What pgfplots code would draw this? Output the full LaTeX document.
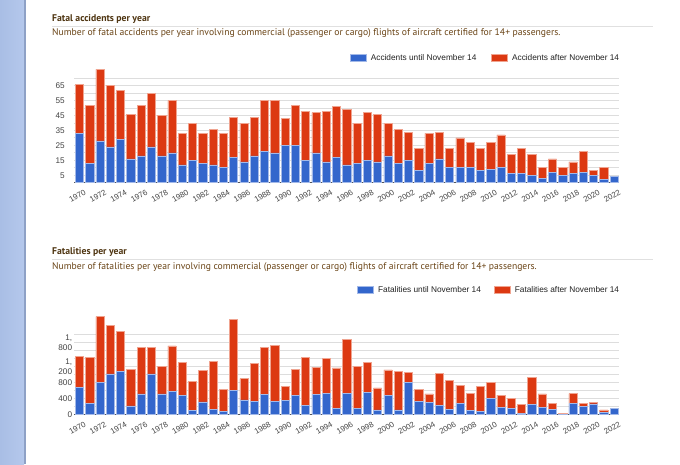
\documentclass[border=0pt]{standalone}
\usepackage{fontspec}
\usepackage{pgfplots}
\pgfplotsset{compat=1.18}
\usepackage{pgfplotstable}
\setmainfont{Liberation Sans}
\newfontfamily\chartfont{Liberation Sans}
\newfontfamily\headfont{PT Sans}

\definecolor{gblue}{HTML}{3366CC}
\definecolor{gred}{HTML}{DC3912}
\definecolor{gblueedge}{HTML}{A3B9E8}
\definecolor{grededge}{HTML}{F0A490}
\definecolor{gridgrey}{HTML}{DDDDDD}
\definecolor{basegrey}{HTML}{555555}
\definecolor{ticktext}{HTML}{444444}
\definecolor{legtext}{HTML}{222222}
\definecolor{headbrown}{HTML}{4E3410}
\definecolor{subbrown}{HTML}{6A4416}
\definecolor{rulegrey}{HTML}{E0E0E0}
\definecolor{sideblue}{HTML}{B5C8EC}
\definecolor{sidedark}{HTML}{A9BEE5}
\definecolor{sideedge}{HTML}{8EA1C6}

% Fatal accidents: before / after November 14 of each year
\pgfplotstableread{
year until after
1970 33 33
1971 13 39
1972 28 48
1973 24 41
1974 29 33
1975 16 30
1976 18 34
1977 24 36
1978 18 27
1979 20 35
1980 12 21
1981 15 25
1982 13 20
1983 12 24
1984 10 23
1985 17 27
1986 14 26
1987 18 26
1988 21 34
1989 20 35
1990 25 18
1991 25 27
1992 15 33
1993 20 27
1994 14 34
1995 17 34
1996 12 37
1997 13 27
1998 15 32
1999 14 32
2000 18 22
2001 13 23
2002 15 19
2003 8 15
2004 13 20
2005 16 18
2006 10 13
2007 10 20
2008 10 17
2009 8 15
2010 9 18
2011 10 22
2012 6 13
2013 6 17
2014 5 14
2015 3 7
2016 7 9
2017 5 5
2018 6 8
2019 7 14
2020 5 3
2021 2 8
2022 4 0
}\accidents

% Fatalities: before / after November 14 of each year
\pgfplotstableread{
year until after
1970 680 770
1971 280 1150
1972 800 1650
1973 1020 1220
1974 1080 1000
1975 220 910
1976 520 1160
1977 1020 670
1978 520 690
1979 580 1140
1980 490 820
1981 100 730
1982 320 790
1983 130 1200
1984 90 540
1985 600 1780
1986 370 530
1987 330 960
1988 510 1170
1989 330 1410
1990 360 350
1991 490 640
1992 230 1200
1993 510 680
1994 530 880
1995 160 1010
1996 530 1360
1997 160 1050
1998 560 750
1999 120 550
2000 480 640
2001 120 970
2002 800 250
2003 330 310
2004 300 220
2005 230 800
2006 140 720
2007 290 450
2008 100 430
2009 80 620
2010 400 410
2011 180 310
2012 160 240
2013 40 210
2014 250 690
2015 180 340
2016 140 140
2017 5 20
2018 280 250
2019 200 80
2020 270 30
2021 50 70
2022 150 0
}\fatalities

\pgfplotsset{
  gchart/.style={
    scale only axis, width=545pt,
    xmin=1969.5, xmax=2022.5, ymin=0,
    ybar stacked, bar width=8.2pt,
    clip=false,
    axis line style={draw=none},
    major tick length=0pt,
    ymajorgrids, grid style={gridgrey, line width=1pt},
    xtick={1970,1972,...,2022},
    /pgf/number format/assume math mode=true,
    xticklabel style={font=\chartfont\fontsize{7.9}{9}\selectfont, text=ticktext,
      rotate=30, anchor=north east, inner sep=0pt, text height=5.7pt, text depth=0pt,
      yshift=-7.5pt, xshift=0.5pt,
      /pgf/number format/1000 sep={}},
    yticklabel style={font=\chartfont\fontsize{8.2}{10.4}\selectfont, text=ticktext,
      inner sep=0pt, align=right, anchor=east},
    legend columns=2,
    legend style={draw=none, fill=none, at={(1,1)}, anchor=east, inner sep=0pt,
      font=\chartfont\fontsize{8.3}{9}\selectfont, text=legtext,
      nodes={inner sep=0pt},
      /tikz/every odd column/.append style={column sep=4pt}},
  },
  until/.style={fill=gblue, draw=gblueedge, line width=0.6pt},
  after/.style={fill=gred, draw=grededge, line width=0.6pt},
}

\begin{document}
\begin{tikzpicture}
\useasboundingbox (0,0) rectangle (680pt,464pt);
\fill[white] (0,0) rectangle (680pt,464pt);
% page side bar
\shade[left color=sidedark, right color=sideblue] (0,0) rectangle (24pt,464pt);
\draw[sideedge, line width=1.6pt] (24.8pt,0) -- (24.8pt,464pt);

% ---------- fatal accidents ----------
\node[anchor=west, inner sep=0pt, text=headbrown,
  font=\headfont\bfseries\fontsize{9.7}{10}\selectfont] at (52pt,444.5pt) {Fatal accidents per year};
\draw[rulegrey, line width=0.9pt] (52pt,437.3pt) -- (653pt,437.3pt);
\node[anchor=west, inner sep=0pt, text=subbrown,
  font=\headfont\fontsize{9.64}{10}\selectfont] at (52pt,430.6pt)
  {Number of fatal accidents per year involving commercial (passenger or cargo) flights of aircraft certified for 14+ passengers.};

\begin{axis}[gchart,
  at={(74.3pt,281.3pt)}, anchor=south west,
  height=116.3pt, ymax=78,
  ytick={0,5,...,70},
  yticklabels={,5,,15,,25,,35,,45,,55,,65,},
  yticklabel style={xshift=-9.3pt},
  legend image code/.code={\fill[#1] (0pt,-3.3pt) rectangle (16pt,3.3pt);},
  legend style={yshift=8.4pt, /tikz/every even column/.append style={column sep=15pt}},
]
\addplot[until] table[x=year, y=until] {\accidents};
\addplot[after] table[x=year, y=after] {\accidents};
\legend{Accidents until November 14, Accidents after November 14}
\draw[basegrey, line width=0.8pt] (axis cs:1969.5,0) -- (axis cs:2022.5,0);
\end{axis}

% ---------- fatalities ----------
\node[anchor=west, inner sep=0pt, text=headbrown,
  font=\headfont\bfseries\fontsize{9.7}{10}\selectfont] at (52pt,212pt) {Fatalities per year};
\draw[rulegrey, line width=0.9pt] (52pt,204.7pt) -- (653pt,204.7pt);
\node[anchor=west, inner sep=0pt, text=subbrown,
  font=\headfont\fontsize{9.64}{10}\selectfont] at (52pt,197.3pt)
  {Number of fatalities per year involving commercial (passenger or cargo) flights of aircraft certified for 14+ passengers.};

\begin{axis}[gchart,
  at={(74.3pt,49.3pt)}, anchor=south west,
  height=100pt, ymax=2500,
  ytick={0,200,...,2000},
  yticklabels={0,,400,,800,,{1,\\200},,,{1,\\800},},
  yticklabel style={xshift=-2pt},
  legend image code/.code={\fill[#1] (0pt,-3.3pt) rectangle (16.3pt,3.3pt);},
  legend style={yshift=24.7pt, /tikz/every even column/.append style={column sep=13pt}},
]
\addplot[until] table[x=year, y=until] {\fatalities};
\addplot[after] table[x=year, y=after] {\fatalities};
\legend{Fatalities until November 14, Fatalities after November 14}
\draw[basegrey, line width=0.8pt] (axis cs:1969.5,0) -- (axis cs:2022.5,0);
\end{axis}
\end{tikzpicture}
\end{document}
